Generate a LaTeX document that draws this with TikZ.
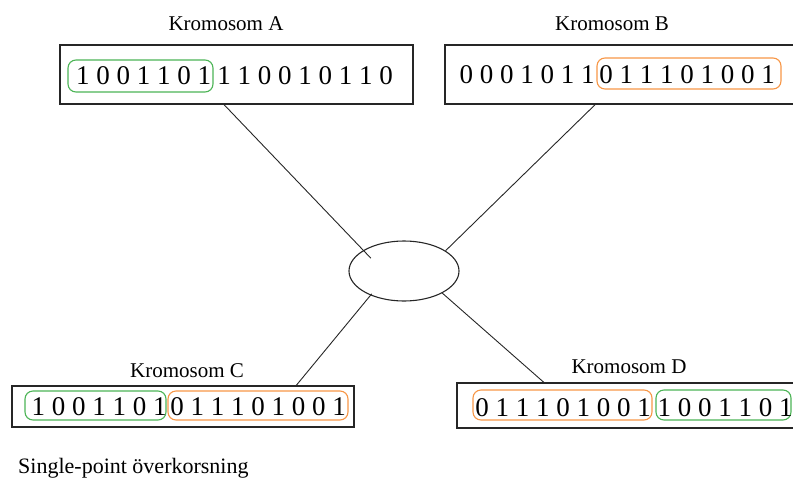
\documentclass[tikz,border=0pt]{standalone}
\usepackage{fontspec}
\setmainfont{Liberation Serif}
\usetikzlibrary{shapes.geometric,calc}
\definecolor{grpgreen}{RGB}{76,180,86}
\definecolor{grporange}{RGB}{247,150,70}
\begin{document}
\begin{tikzpicture}[x=1pt,y=-1pt,
  chrom/.style={draw=black!85, line width=1.4pt, rectangle, inner sep=0pt},
  grp/.style={draw=#1, line width=1.1pt, rounded corners=8pt, rectangle, inner sep=0pt},
  bits/.style={font=\fontsize{27}{27}\selectfont, anchor=base, inner sep=0pt},
  title/.style={font=\fontsize{21}{21}\selectfont, anchor=base, inner sep=0pt},
  link/.style={line width=0.9pt, black!85}]
\useasboundingbox (0,0) rectangle (793,480);
\clip (0,0) rectangle (793,480);

% chromosome boxes
\node[chrom, minimum width=353pt, minimum height=59pt] (A) at (236.5,74.5) {};
\node[chrom, minimum width=355pt, minimum height=59pt] (B) at (622.5,74.5) {};
\node[chrom, minimum width=342pt, minimum height=41pt] (C) at (183,406.5) {};
\node[chrom, minimum width=343pt, minimum height=45pt] (D) at (628.5,405.5) {};

% titles
\node[title] (tA) at (226,30) {Kromosom A};
\node[title] (tB) at (612,30) {Kromosom B};
\node[title] (tC) at (187,377) {Kromosom C};
\node[title] (tD) at (629,373) {Kromosom D};

% gene segments
\node[grp=grpgreen,  minimum width=145pt, minimum height=32pt] (gA) at (140.5,76) {};
\node[grp=grporange, minimum width=184pt, minimum height=31pt] (oB) at (689,73.5) {};
\node[grp=grpgreen,  minimum width=141pt, minimum height=29pt] (gC) at (95.5,405.5) {};
\node[grp=grporange, minimum width=180pt, minimum height=29pt] (oC) at (258,405.5) {};
\node[grp=grporange, minimum width=179pt, minimum height=30pt] (oD) at (562.5,405) {};
\node[grp=grpgreen,  minimum width=135pt, minimum height=30pt] (gD) at (723.5,405) {};

% bit strings
\node[bits] (bA1) at (143.5,84) {1 0 0 1 1 0 1};
\node[bits] (bA2) at (305,84) {1 1 0 0 1 0 1 1 0};
\node[bits] (bB1) at (527,83) {0 0 0 1 0 1 1};
\node[bits] (bB2) at (687,83) {0 1 1 1 0 1 0 0 1};
\node[bits] (bC1) at (99,415) {1 0 0 1 1 0 1};
\node[bits] (bC2) at (258,415) {0 1 1 1 0 1 0 0 1};
\node[bits] (bD1) at (563,416) {0 1 1 1 0 1 0 0 1};
\node[bits] (bD2) at (725,416) {1 0 0 1 1 0 1};

% crossover point
\node[ellipse, draw=black!85, line width=1.1pt, minimum width=110pt, minimum height=60pt, inner sep=0pt] (X) at (404,271) {};

% connectors
\draw[link, shorten >=-11pt] ($(A.south west)!0.465!(A.south east)$) -- (X.153);
\draw[link] ($(B.south west)!0.423!(B.south east)$) -- (X.26);
\draw[link, shorten >=-2pt] ($(C.north west)!0.830!(C.north east)$) -- (X.216);
\draw[link] ($(D.north west)!0.254!(D.north east)$) -- (X.330);

% caption
\node[font=\fontsize{22}{22}\selectfont, anchor=base west, inner sep=0pt] (cap) at (18,473) {Single-point överkorsning};
\end{tikzpicture}
\end{document}
